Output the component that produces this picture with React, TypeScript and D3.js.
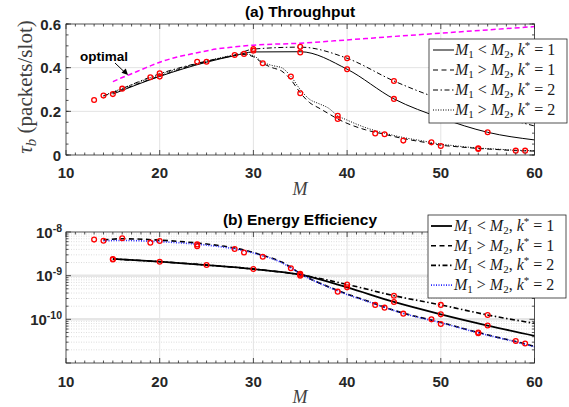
import React from "react";
import * as d3 from "d3";

// ---- (a) throughput data ----
const optM = [15, 16, 17, 18, 20, 22, 24, 26, 28, 30, 35, 40, 45, 50, 55, 60];
const optTau = [0.336, 0.355, 0.372, 0.39, 0.425, 0.45, 0.468, 0.485, 0.495, 0.503, 0.512, 0.527, 0.543, 0.558, 0.573, 0.588];

const thrSolidM = [15, 20, 25, 28, 30, 35, 40, 45, 50, 55, 60];
const thrSolid = [0.279, 0.36, 0.425, 0.455, 0.472, 0.473, 0.393, 0.257, 0.17, 0.104, 0.069];

const thrDashDotM = [15, 20, 25, 28, 30, 35, 40, 45, 50, 55, 60];
const thrDashDot = [0.285, 0.372, 0.43, 0.458, 0.485, 0.494, 0.443, 0.339, 0.255, 0.19, 0.133];

const thrLowM = [14, 16, 20, 25, 28, 29, 30, 31, 32, 33, 34, 35, 36, 37, 38, 39, 40, 42, 44, 46, 48, 50, 52, 54, 56, 58, 60];
const thrDashed = [0.27, 0.3, 0.362, 0.428, 0.455, 0.46, 0.45, 0.42, 0.4, 0.385, 0.345, 0.285, 0.24, 0.215, 0.19, 0.165, 0.145, 0.115, 0.095, 0.075, 0.06, 0.045, 0.037, 0.03, 0.025, 0.02, 0.018];
const thrDotted = [0.272, 0.305, 0.368, 0.43, 0.458, 0.463, 0.455, 0.425, 0.41, 0.4, 0.36, 0.3, 0.255, 0.235, 0.215, 0.18, 0.16, 0.125, 0.1, 0.08, 0.065, 0.05, 0.04, 0.032, 0.027, 0.022, 0.02];

const thrMarkM = [13, 14, 15, 16, 19, 20, 20, 24, 25, 28, 29, 30, 30, 31, 34, 35, 35, 35, 39, 39, 40, 40, 43, 44, 45, 45, 46, 49, 50, 54, 54, 55, 58, 59];
const thrMarkTau = [0.252, 0.272, 0.279, 0.304, 0.356, 0.374, 0.359, 0.427, 0.427, 0.458, 0.463, 0.478, 0.485, 0.42, 0.359, 0.283, 0.47, 0.496, 0.18, 0.165, 0.393, 0.443, 0.099, 0.095, 0.257, 0.339, 0.066, 0.058, 0.041, 0.031, 0.028, 0.104, 0.02, 0.02];

// ---- (b) energy efficiency data ----
const effUpM = [15, 20, 25, 30, 35, 40, 45, 50, 55, 60];
const effSolid = [2.41e-9, 2.09e-9, 1.75e-9, 1.42e-9, 1.05e-9, 5.4e-10, 2.5e-10, 1.3e-10, 7.2e-11, 4.2e-11];
const effDashDot = [2.41e-9, 2.09e-9, 1.75e-9, 1.42e-9, 1.05e-9, 6.3e-10, 3.48e-10, 2.14e-10, 1.26e-10, 8.1e-11];

const effLowM = [14, 16, 20, 25, 28, 30, 31, 32, 33, 34, 35, 36, 38, 40, 42, 44, 46, 48, 50, 52, 54, 56, 58, 60];
const effDashed = [6.6e-9, 7.0e-9, 6.5e-9, 5.3e-9, 4.3e-9, 3.4e-9, 2.9e-9, 2.5e-9, 2.05e-9, 1.55e-9, 1.12e-9, 8.6e-10, 5.6e-10, 3.8e-10, 2.7e-10, 1.9e-10, 1.38e-10, 1.08e-10, 8.5e-11, 6.5e-11, 5.0e-11, 3.9e-11, 3.1e-11, 2.4e-11];
const effDotted = [6.3e-9, 6.4e-9, 6.0e-9, 5.0e-9, 4.1e-9, 3.3e-9, 2.85e-9, 2.45e-9, 2.0e-9, 1.5e-9, 1.1e-9, 8.5e-10, 5.5e-10, 3.7e-10, 2.65e-10, 1.88e-10, 1.36e-10, 1.06e-10, 8.4e-11, 6.4e-11, 4.9e-11, 3.85e-11, 3.05e-11, 2.35e-11];

const effMarkM = [13, 14, 16, 19, 20, 24, 24, 28, 29, 31, 34, 35, 35, 35, 15, 15, 20, 25, 30, 39, 40, 40, 43, 44, 45, 45, 46, 49, 50, 50, 50, 54, 54, 55, 55, 58, 59];
const effMarkE = [6.7e-9, 6.3e-9, 7.2e-9, 5.7e-9, 6.2e-9, 5.2e-9, 4.7e-9, 4.07e-9, 3.4e-9, 2.72e-9, 1.48e-9, 1.1e-9, 1.05e-9, 1.0e-9, 2.41e-9, 2.35e-9, 2.09e-9, 1.75e-9, 1.42e-9, 4.3e-10, 6.3e-10, 5.4e-10, 2.14e-10, 1.85e-10, 3.48e-10, 2.5e-10, 1.35e-10, 1.0e-10, 2.14e-10, 1.3e-10, 7.8e-11, 5.0e-11, 4.8e-11, 1.26e-10, 7.2e-11, 3.2e-11, 2.8e-11];

const xTicks = [10, 20, 30, 40, 50, 60];
const thrTicks = [0, 0.2, 0.4, 0.6];
const effTicks = [1e-8, 1e-9, 1e-10];
const effTickExp = ["-8", "-9", "-10"];
const legendKs = ["1", "1", "2", "2"];
const legendRel = ["<", ">", "<", ">"];

const axisCol = "#262626";
const sans = "'Liberation Sans', Arial, sans-serif";
const serif = "'Liberation Serif', 'Times New Roman', serif";

const x = d3.scaleLinear().domain([10, 60]).range([66, 534.5]);
const yA = d3.scaleLinear().domain([0, 0.6]).range([155, 24]);
const yB = d3.scaleLog().domain([1e-11, 1e-8]).range([363, 232]);

const minorX = d3.range(10, 61, 1);

function pathOf(ms: number[], vs: number[], y: (v: number) => number) {
  const pts = ms.map((m, i) => [m, vs[i]] as [number, number]);
  return (
    d3
      .line<[number, number]>()
      .x((d) => x(d[0]))
      .y((d) => y(d[1]))
      .curve(d3.curveMonotoneX)(pts) || ""
  );
}

function Frame({ top, bottom, yMajor, yMinor }: { top: number; bottom: number; yMajor: number[]; yMinor: number[] }) {
  const l = x(10), r = x(60);
  return (
    <g stroke={axisCol} strokeWidth={0.8}>
      {minorX.map((m) => {
        const len = m % 10 === 0 ? 5 : 2.5;
        return (
          <g key={"xt" + m}>
            <line x1={x(m)} x2={x(m)} y1={bottom} y2={bottom - len} />
            <line x1={x(m)} x2={x(m)} y1={top} y2={top + len} />
          </g>
        );
      })}
      {yMinor.map((v, i) => (
        <g key={"ym" + i}>
          <line x1={l} x2={l + 2.5} y1={v} y2={v} />
          <line x1={r} x2={r - 2.5} y1={v} y2={v} />
        </g>
      ))}
      {yMajor.map((v, i) => (
        <g key={"yM" + i}>
          <line x1={l} x2={l + 5} y1={v} y2={v} />
          <line x1={r} x2={r - 5} y1={v} y2={v} />
        </g>
      ))}
      <rect x={l} y={top} width={r - l} height={bottom - top} fill="none" />
    </g>
  );
}

function LegendLabel({ x0, y0, rel, k }: { x0: number; y0: number; rel: string; k: string }) {
  return (
    <text x={x0} y={y0} fontFamily={serif} fontSize={16} fill="#1a1a1a">
      <tspan fontStyle="italic">M</tspan>
      <tspan fontSize={11} dy={3}>1</tspan>
      <tspan dy={-3}>{` ${rel} `}</tspan>
      <tspan fontStyle="italic">M</tspan>
      <tspan fontSize={11} dy={3}>2</tspan>
      <tspan dy={-3}>, </tspan>
      <tspan fontStyle="italic">k</tspan>
      <tspan fontSize={11} dy={-6}>*</tspan>
      <tspan dy={6}>{` = ${k}`}</tspan>
    </text>
  );
}

const styles = [
  { dash: "none" },
  { dash: "5,3.5" },
  { dash: "5,2.5,1.5,2.5" },
  { dash: "1,1.5" },
];

export default function App() {
  const l = x(10), r = x(60);
  const topA = yA(0.6), botA = yA(0);
  const topB = yB(1e-8), botB = yB(1e-11);

  const thrMinor = d3.range(0, 0.6001, 0.05).map((v) => yA(v));
  const effMinor: number[] = [];
  [1e-11, 1e-10, 1e-9].forEach((d) => {
    for (let k = 2; k <= 9; k++) effMinor.push(yB(d * k));
  });

  const thrSeries = [
    { d: pathOf(thrSolidM, thrSolid, yA), ...styles[0] },
    { d: pathOf(thrLowM, thrDashed, yA), ...styles[1] },
    { d: pathOf(thrDashDotM, thrDashDot, yA), ...styles[2] },
    { d: pathOf(thrLowM, thrDotted, yA), ...styles[3] },
  ];
  const effSeries = [
    { d: pathOf(effUpM, effSolid, yB), ...styles[0], col: "#000", w: 1.8 },
    { d: pathOf(effLowM, effDashed, yB), ...styles[1], col: "#000", w: 1.6 },
    { d: pathOf(effUpM, effDashDot, yB), ...styles[2], col: "#000", w: 1.6 },
    { d: pathOf(effLowM, effDotted, yB), ...styles[3], col: "#2a2aff", w: 1.6 },
  ];

  return (
    <svg width={569} height={407} style={{ position: "absolute", left: 0, top: 0, background: "#fff" }}>
      <rect width={569} height={407} fill="#fff" />

      {/* ===== panel (a) ===== */}
      <g>
        {xTicks.slice(1, -1).map((m) => (
          <line key={"ga" + m} x1={x(m)} x2={x(m)} y1={topA} y2={botA} stroke="#e3e3e3" strokeWidth={1} />
        ))}
        {thrTicks.slice(1, -1).map((v) => (
          <line key={"gya" + v} x1={l} x2={r} y1={yA(v)} y2={yA(v)} stroke="#e3e3e3" strokeWidth={1} />
        ))}
        <path d={pathOf(optM, optTau, yA)} fill="none" stroke="#ff00ff" strokeWidth={1.5} strokeDasharray="5,3" />
        {thrSeries.map((s, i) => (
          <path key={"sa" + i} d={s.d} fill="none" stroke="#000" strokeWidth={1} strokeDasharray={s.dash} />
        ))}
        {thrMarkM.map((m, i) => (
          <circle key={"ma" + i} cx={x(m)} cy={yA(thrMarkTau[i])} r={2.4} fill="none" stroke="#ff0000" strokeWidth={1.3} />
        ))}
        <Frame top={topA} bottom={botA} yMajor={thrTicks.map((v) => yA(v))} yMinor={thrMinor} />
        {xTicks.map((m) => (
          <text key={"xla" + m} x={x(m)} y={178} textAnchor="middle" fontFamily={sans} fontWeight="bold" fontSize={15} fill={axisCol}>
            {m}
          </text>
        ))}
        {thrTicks.map((v) => (
          <text key={"yla" + v} x={61} y={yA(v) + 5.5} textAnchor="end" fontFamily={sans} fontWeight="bold" fontSize={15} fill={axisCol}>
            {v === 0 ? "0" : v.toFixed(1)}
          </text>
        ))}
        <text x={300} y={17} textAnchor="middle" fontFamily={sans} fontWeight="bold" fontSize={15.5} fill="#000">
          (a) Throughput
        </text>
        <text x={300} y={195} textAnchor="middle" fontFamily={serif} fontStyle="italic" fontSize={18} fill="#404040">
          M
        </text>
        <text transform="translate(32,87) rotate(-90)" textAnchor="middle" fontFamily={serif} fontSize={21} fill="#404040">
          <tspan fontStyle="italic">τ</tspan>
          <tspan fontStyle="italic" fontSize={15} dy={4}>b</tspan>
          <tspan dy={-4}> (packets/slot)</tspan>
        </text>
        <text x={80} y={61} fontFamily={sans} fontWeight="bold" fontSize={13.5} fill="#000">
          optimal
        </text>
        <line x1={115} y1={63} x2={125} y2={72.5} stroke="#000" strokeWidth={1} />
        <path d="M128,75 L121.5,72.8 L125.8,68.6 Z" fill="#000" />

        <rect x={429} y={39} width={138} height={84} fill="#fff" stroke={axisCol} strokeWidth={0.8} />
        {legendKs.map((k, i) => {
          const yy = 50 + i * 20;
          return (
            <g key={"lga" + i}>
              <line x1={433} x2={454} y1={yy} y2={yy} stroke="#000" strokeWidth={1} strokeDasharray={styles[i].dash} />
              <LegendLabel x0={455} y0={yy + 5} rel={legendRel[i]} k={k} />
            </g>
          );
        })}
      </g>

      {/* ===== panel (b) ===== */}
      <g>
        {effMinor.map((v, i) => (
          <line key={"gmb" + i} x1={l} x2={r} y1={v} y2={v} stroke="#cfcfcf" strokeWidth={0.7} strokeDasharray="1,1.5" />
        ))}
        {xTicks.slice(1, -1).map((m) => (
          <line key={"gb" + m} x1={x(m)} x2={x(m)} y1={topB} y2={botB} stroke="#e3e3e3" strokeWidth={1} />
        ))}
        {effTicks.slice(1).map((v) => (
          <line key={"gyb" + v} x1={l} x2={r} y1={yB(v)} y2={yB(v)} stroke="#e6e6e6" strokeWidth={2.5} />
        ))}
        {effSeries.map((s, i) => (
          <path key={"sb" + i} d={s.d} fill="none" stroke={s.col} strokeWidth={s.w} strokeDasharray={s.dash} />
        ))}
        {effMarkM.map((m, i) => (
          <circle key={"mb" + i} cx={x(m)} cy={yB(effMarkE[i])} r={2.4} fill="none" stroke="#ff0000" strokeWidth={1.3} />
        ))}
        <Frame top={topB} bottom={botB} yMajor={[1e-11, ...effTicks].map((v) => yB(v))} yMinor={effMinor} />
        {xTicks.map((m) => (
          <text key={"xlb" + m} x={x(m)} y={387} textAnchor="middle" fontFamily={sans} fontWeight="bold" fontSize={15} fill={axisCol}>
            {m}
          </text>
        ))}
        {effTicks.map((v, i) => (
          <text key={"ylb" + i} x={62} y={yB(v) + 5.5} textAnchor="end" fontFamily={sans} fontWeight="bold" fontSize={15} fill={axisCol}>
            10
            <tspan fontSize={10.5} dy={-6}>{effTickExp[i]}</tspan>
          </text>
        ))}
        <text x={300} y={225} textAnchor="middle" fontFamily={sans} fontWeight="bold" fontSize={15.5} fill="#000">
          (b) Energy Efficiency
        </text>
        <text x={300} y={403} textAnchor="middle" fontFamily={serif} fontStyle="italic" fontSize={18} fill="#404040">
          M
        </text>

        <rect x={428} y={215} width={138} height={83} fill="#fff" stroke={axisCol} strokeWidth={0.8} />
        {legendKs.map((k, i) => {
          const yy = 226 + i * 19.7;
          const s = effSeries[i];
          return (
            <g key={"lgb" + i}>
              <line x1={431} x2={452} y1={yy} y2={yy} stroke={s.col} strokeWidth={s.w} strokeDasharray={s.dash} />
              <LegendLabel x0={454} y0={yy + 5} rel={legendRel[i]} k={k} />
            </g>
          );
        })}
      </g>
    </svg>
  );
}
